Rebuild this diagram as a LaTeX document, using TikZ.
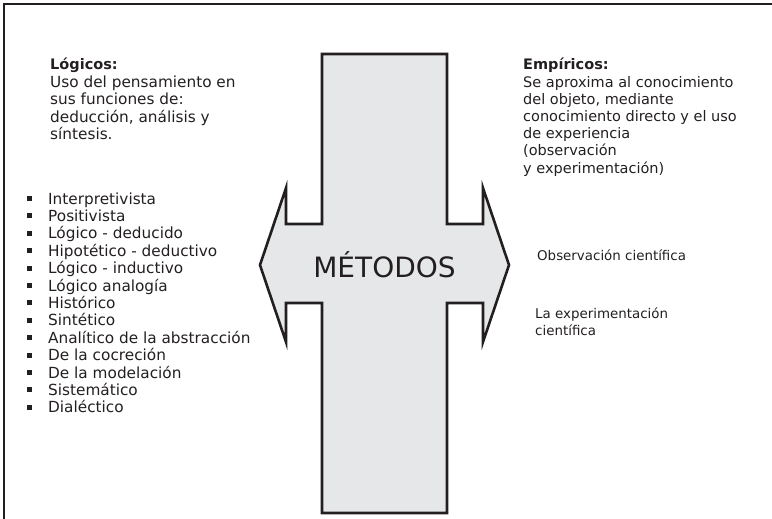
\documentclass[tikz,border=0pt]{standalone}
\usepackage{fontspec}
\setmainfont{DejaVu Sans}
\usepackage{tikz}
\usepackage{xcolor}

\definecolor{ink}{HTML}{231F20}
\definecolor{panel}{HTML}{E6E7E8}

\begin{document}
\begin{tikzpicture}[x=1pt, y=-1pt,
    txt/.style={anchor=base west, inner sep=0pt, align=left, text=ink,
                font=\fontsize{14.5}{17.2}\selectfont},
    ttl/.style={txt, font=\fontsize{14.5}{17.2}\selectfont\bfseries},
    big/.style={txt, font=\fontsize{15.3}{17.5}\selectfont},
    small/.style={txt, font=\fontsize{13.4}{16.5}\selectfont}]
    \useasboundingbox (0,0) rectangle (772,519);

    % Draw the frame
    \draw[line width=1.8pt, ink] (4,519) -- (4,4) -- (772,4);

    % Draw the cross with its two arrow heads
    \draw[line width=2.6pt, ink, fill=panel, line join=miter]
        (322,54) -- (447,54) -- (447,224) -- (483,224) -- (483,188)
        -- (509,265) -- (483,342) -- (483,303) -- (447,303) -- (447,513)
        -- (322,513) -- (322,303) -- (286,303) -- (286,342) -- (260,265)
        -- (286,188) -- (286,224) -- (322,224) -- cycle;
    \node[anchor=base, text=ink, inner sep=0pt,
          font=\fontsize{28}{30}\selectfont] (met) at (384.5,277) {MÉTODOS};

    % Left side: logical methods (base = last line)
    \node[ttl] (log) at (50,70) {Lógicos:};
    \node[big] (logtxt) at (50,139.5) {Uso del pensamiento en\\
        sus funciones de:\\ deducción, análisis y\\ síntesis.};

    % Draw the list of methods
    \foreach \m [count=\k from 0] in {Interpretivista, Positivista,
        Lógico - deducido, Hipotético - deductivo, Lógico - inductivo,
        Lógico analogía, Histórico, Sintético, Analítico de la abstracción,
        De la cocreción, De la modelación, Sistemático, Dialéctico} {
        \node[big] (m\k) at (48, {204+17.4*\k}) {\m};
        \fill[ink] ([xshift=-21pt, yshift=3pt]m\k.base west) rectangle ++(5,-5); % bullet
    }

    % Right side: empirical methods (base = last line)
    \node[ttl] (emp) at (523,70) {Empíricos:};
    \node[txt] (emptxt) at (523,173) {Se aproxima al conocimiento\\
        del objeto, mediante\\ conocimiento directo y el uso\\
        de experiencia\\ (observación\\ y experimentación)};
    \node[small] (obs) at (537,260) {Observación científica};
    \node[small] (exp) at (535,335) {La experimentación\\ científica};

\end{tikzpicture}
\end{document}
